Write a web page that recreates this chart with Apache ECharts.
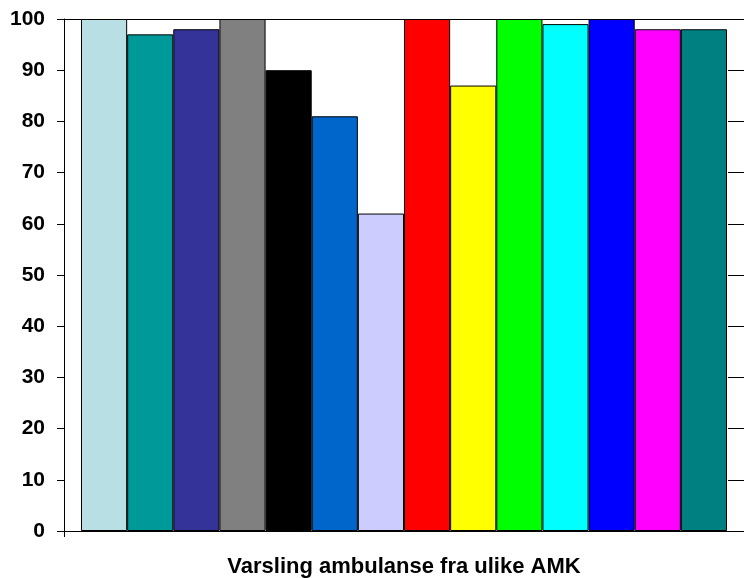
<!DOCTYPE html>
<html>
<head>
<meta charset="utf-8">
<script src="https://cdn.jsdelivr.net/npm/echarts@6/dist/echarts.min.js"></script>
<style>
html,body{margin:0;padding:0;background:#fff;}
#chart{width:744px;height:578px;}
</style>
</head>
<body>
<div id="chart"></div>
<script>
var categories = [''];
var seriesNames = ['AMK 1','AMK 2','AMK 3','AMK 4','AMK 5','AMK 6','AMK 7','AMK 8','AMK 9','AMK 10','AMK 11','AMK 12','AMK 13','AMK 14'];
var seriesValues = [100, 97, 98, 100, 90, 81, 62, 100, 87, 100, 99, 100, 98, 98];
var seriesColors = ['#B8DFE3','#009999','#333399','#808080','#000000','#0066CC','#CCCCFF','#FF0000','#FFFF00','#00FF00','#00FFFF','#0000FF','#FF00FF','#008080'];
var yTicks = [0,10,20,30,40,50,60,70,80,90,100];
var xTitle = 'Varsling ambulanse fra ulike AMK';

var chart = echarts.init(document.getElementById('chart'), null, {renderer:'canvas'});
var font = 'Liberation Sans, Arial, sans-serif';

var series = seriesValues.map(function(v, i){
  return {
    name: seriesNames[i],
    type: 'bar',
    xAxisIndex: 0, yAxisIndex: 0,
    data: [v],
    barGap: '0%',
    barCategoryGap: '5%',
    itemStyle: {color: seriesColors[i], borderColor: '#000', borderWidth: 1},
    silent: true,
    animation: false
  };
});

chart.setOption({
  animation: false,
  grid: [
    {left: 64, right: 0, top: 19, bottom: 47, containLabel: false, outerBoundsMode: 'none'},
    {left: 728, right: 0, top: 19, bottom: 47, containLabel: false, outerBoundsMode: 'none'}
  ],
  xAxis: [
    {
      type: 'category', gridIndex: 0, data: categories,
      boundaryGap: true,
      axisLine: {show: true, lineStyle: {color: '#000', width: 1}},
      axisTick: {show: true, length: 6, lineStyle: {color: '#000'}},
      axisLabel: {show: false},
      name: xTitle, nameLocation: 'middle', nameGap: 25,
      nameTextStyle: {fontFamily: font, fontWeight: 'bold', fontSize: 22, color: '#000'}
    },
    {
      type: 'category', gridIndex: 0, data: categories, position: 'top',
      axisLine: {show: true, lineStyle: {color: '#000', width: 1}},
      axisTick: {show: false}, axisLabel: {show: false}
    },
    {
      type: 'category', gridIndex: 1, data: categories,
      axisLine: {show: false}, axisTick: {show: false}, axisLabel: {show: false}
    }
  ],
  yAxis: [
    {
      type: 'value', gridIndex: 0, min: yTicks[0], max: yTicks[yTicks.length-1], interval: 10,
      axisLine: {show: true, lineStyle: {color: '#000', width: 1}},
      axisTick: {show: true, length: 7, inside: false, lineStyle: {color: '#000'}},
      axisLabel: {show: true, margin: 19, fontFamily: font, fontWeight: 'bold', fontSize: 21, color: '#000'},
      splitLine: {show: false}
    },
    {
      type: 'value', gridIndex: 1, min: yTicks[0], max: yTicks[yTicks.length-1], interval: 10,
      axisLine: {show: false}, axisTick: {show: false}, axisLabel: {show: false},
      splitLine: {show: true, lineStyle: {color: '#000', width: 1}}
    }
  ],
  series: series
});
</script>
</body>
</html>
